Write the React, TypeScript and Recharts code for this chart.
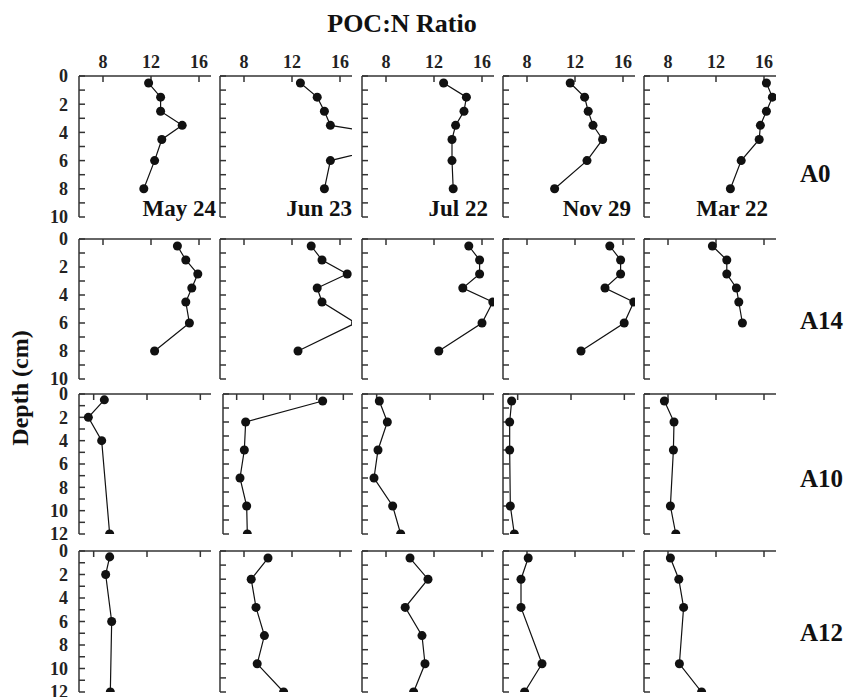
import { Scatter, ScatterChart, XAxis, YAxis, ZAxis } from "recharts";

const dates = ["May 24", "Jun 23", "Jul 22", "Nov 29", "Mar 22"];
const stations = ["A0", "A14", "A10", "A12"];

// depth (cm) of each sample
const depthsUpper = [0.5, 1.5, 2.5, 3.5, 4.5, 6, 8];
const depthsUpperShort = [0.5, 1.5, 2.5, 3.5, 4.5, 6];
const depthsA10May = [0.5, 2, 4, 12];
const depthsA12May = [0.5, 2, 6, 12];
const depthsFull = [0.5, 2, 4, 6, 8, 10];
const depthsGap = [0.5, 2, 4, 8, 10];

// POC:N ratio per station / date
const a0May = [11.8, 12.8, 12.8, 14.6, 12.9, 12.3, 11.4];
const a0Jun = [12.7, 14.1, 14.7, 15.2, 22.5, 15.2, 14.7];
const a0Jul = [12.8, 14.7, 14.5, 13.8, 13.5, 13.5, 13.6];
const a0Nov = [11.6, 12.8, 13.1, 13.5, 14.3, 13.0, 10.3];
const a0Mar = [16.2, 16.7, 16.2, 15.7, 15.6, 14.1, 13.2];

const a14May = [14.2, 14.9, 15.9, 15.4, 14.9, 15.2, 12.3];
const a14Jun = [13.6, 14.5, 16.6, 14.1, 14.5, 17.3, 12.5];
const a14Jul = [14.9, 15.8, 15.8, 14.4, 16.9, 16.0, 12.4];
const a14Nov = [14.9, 15.8, 15.8, 14.5, 16.9, 16.1, 12.5];
const a14Mar = [11.7, 12.9, 12.9, 13.7, 13.9, 14.2];

const a10May = [8.8, 7.6, 8.6, 9.2];
const a10Jun = [20.9, 9.35, 9.15, 8.5, 9.5, 9.6];
const a10Jul = [8.2, 8.8, 8.1, 7.8, 9.2, 9.8];
const a10Nov = [7.55, 7.4, 7.4, 7.45, 7.75];
const a10Mar = [7.7, 8.5, 8.45, 8.2, 8.65];

const a12May = [9.2, 8.9, 9.35, 9.25];
const a12Jun = [10.0, 8.6, 9.0, 9.7, 9.1, 11.3];
const a12Jul = [10.0, 11.5, 9.6, 11.0, 11.25, 10.3];
const a12Nov = [8.1, 7.5, 7.5, 9.25, 7.8];
const a12Mar = [8.2, 8.9, 9.3, 8.95, 10.8];

const xTicksStd = [8, 12, 16];
const xTicksWide = [8, 12, 16, 20, 24];
const yTicks10 = [0, 1, 2, 3, 4, 5, 6, 7, 8, 9, 10];
const yTicks12 = [0, 1, 2, 3, 4, 5, 6, 7, 8, 9, 10, 11, 12];

const domStd: [number, number] = [6, 17];
const domB: [number, number] = [6.9, 16.8];
const domWide: [number, number] = [5.95, 25.45];

const colLeft = [79, 220, 362, 503, 644];
const rowTop = [76, 239, 394, 551];
const rowHeight = [141, 140, 140, 141];

const font = "'Liberation Serif', 'Times New Roman', serif";
const ink = "#111";
const axisStroke = { stroke: "#333", strokeWidth: 1.5 };

type PanelDef = {
  row: number;
  col: number;
  depths: number[];
  values: number[];
  xDomain: [number, number];
  xTicks: number[];
  yMax: number;
  left?: number;
  width?: number;
};

const panels: PanelDef[] = [
  { row: 0, col: 0, depths: depthsUpper, values: a0May, xDomain: domStd, xTicks: xTicksStd, yMax: 10 },
  { row: 0, col: 1, depths: depthsUpper, values: a0Jun, xDomain: domStd, xTicks: xTicksStd, yMax: 10 },
  { row: 0, col: 2, depths: depthsUpper, values: a0Jul, xDomain: domStd, xTicks: xTicksStd, yMax: 10 },
  { row: 0, col: 3, depths: depthsUpper, values: a0Nov, xDomain: domStd, xTicks: xTicksStd, yMax: 10 },
  { row: 0, col: 4, depths: depthsUpper, values: a0Mar, xDomain: domStd, xTicks: xTicksStd, yMax: 10 },

  { row: 1, col: 0, depths: depthsUpper, values: a14May, xDomain: domStd, xTicks: xTicksStd, yMax: 10 },
  { row: 1, col: 1, depths: depthsUpper, values: a14Jun, xDomain: domStd, xTicks: xTicksStd, yMax: 10 },
  { row: 1, col: 2, depths: depthsUpper, values: a14Jul, xDomain: domStd, xTicks: xTicksStd, yMax: 10 },
  { row: 1, col: 3, depths: depthsUpper, values: a14Nov, xDomain: domStd, xTicks: xTicksStd, yMax: 10 },
  { row: 1, col: 4, depths: depthsUpperShort, values: a14Mar, xDomain: domStd, xTicks: xTicksStd, yMax: 10 },

  { row: 2, col: 0, depths: depthsA10May, values: a10May, xDomain: domB, xTicks: xTicksStd, yMax: 12 },
  { row: 2, col: 1, depths: depthsFull, values: a10Jun, xDomain: domWide, xTicks: xTicksWide, yMax: 10, left: 223, width: 130 },
  { row: 2, col: 2, depths: depthsFull, values: a10Jul, xDomain: domB, xTicks: xTicksStd, yMax: 10 },
  { row: 2, col: 3, depths: depthsGap, values: a10Nov, xDomain: domB, xTicks: xTicksStd, yMax: 10 },
  { row: 2, col: 4, depths: depthsGap, values: a10Mar, xDomain: domStd, xTicks: xTicksStd, yMax: 10 },

  { row: 3, col: 0, depths: depthsA12May, values: a12May, xDomain: domB, xTicks: xTicksStd, yMax: 12 },
  { row: 3, col: 1, depths: depthsFull, values: a12Jun, xDomain: domStd, xTicks: xTicksStd, yMax: 10 },
  { row: 3, col: 2, depths: depthsFull, values: a12Jul, xDomain: domStd, xTicks: xTicksStd, yMax: 10 },
  { row: 3, col: 3, depths: depthsGap, values: a12Nov, xDomain: domStd, xTicks: xTicksStd, yMax: 10 },
  { row: 3, col: 4, depths: depthsGap, values: a12Mar, xDomain: domStd, xTicks: xTicksStd, yMax: 10 },
];

const Y_W = 40;
const X_H = 32;
const BOTTOM = 14;
const tickStyle = { fontSize: 18, fontWeight: 700, fontFamily: font, fill: "#222" };

function Panel({ p }: { p: PanelDef }) {
  const left = p.left ?? colLeft[p.col];
  const plotW = p.width ?? 132;
  const plotH = rowHeight[p.row];
  const top = rowTop[p.row];
  const showX = p.row === 0;
  const showY = p.col === 0;
  const data = p.depths.map((d, i) => ({ d, v: p.values[i] }));

  return (
    <div style={{ position: "absolute", left: left - Y_W, top: top - X_H }}>
      <ScatterChart
        width={Y_W + plotW + 6}
        height={X_H + plotH + BOTTOM}
        margin={{ top: 0, right: 6, bottom: BOTTOM, left: 0 }}
      >
        <XAxis
          type="number"
          dataKey="v"
          orientation="top"
          domain={p.xDomain}
          ticks={p.xTicks}
          allowDataOverflow
          interval={0}
          height={X_H}
          tickSize={-6}
          tickMargin={14}
          tick={tickStyle}
          tickFormatter={(t: number) => (showX ? String(t) : "")}
          axisLine={axisStroke}
          tickLine={axisStroke}
        />
        <YAxis
          type="number"
          dataKey="d"
          reversed
          domain={[0, p.yMax]}
          ticks={p.yMax === 12 ? yTicks12 : yTicks10}
          allowDataOverflow
          interval={0}
          width={Y_W}
          tickSize={-6}
          tickMargin={17}
          tick={tickStyle}
          tickFormatter={(t: number) => (showY && t % 2 === 0 ? String(t) : "")}
          axisLine={axisStroke}
          tickLine={axisStroke}
        />
        <ZAxis range={[100, 100]} />
        <Scatter
          data={data}
          fill={ink}
          shape="circle"
          line={{ stroke: ink, strokeWidth: 1.2 }}
          isAnimationActive={false}
        />
      </ScatterChart>
    </div>
  );
}

const dateRight = [216, 352, 488, 631, 768];
const stationBaseline = [182, 329, 487, 641];

export default function App() {
  return (
    <div
      style={{
        position: "absolute",
        left: 0,
        top: 0,
        width: 846,
        height: 697,
        background: "#fff",
        overflow: "hidden",
        fontFamily: font,
      }}
    >
      {panels.map((p) => (
        <Panel key={`${p.row}-${p.col}`} p={p} />
      ))}
      <svg
        width={846}
        height={697}
        style={{ position: "absolute", left: 0, top: 0, pointerEvents: "none" }}
        fontFamily={font}
        fontWeight={700}
        fill="#111"
      >
        <text x={402} y={32} fontSize={26} textAnchor="middle">
          POC:N Ratio
        </text>
        <text x={28} y={388} fontSize={24} textAnchor="middle" transform="rotate(-90, 28, 388)">
          Depth (cm)
        </text>
        {dates.map((d, i) => (
          <text key={d} x={dateRight[i]} y={216} fontSize={23} textAnchor="end">
            {d}
          </text>
        ))}
        {stations.map((s, i) => (
          <text key={s} x={800} y={stationBaseline[i]} fontSize={25}>
            {s}
          </text>
        ))}
      </svg>
    </div>
  );
}
